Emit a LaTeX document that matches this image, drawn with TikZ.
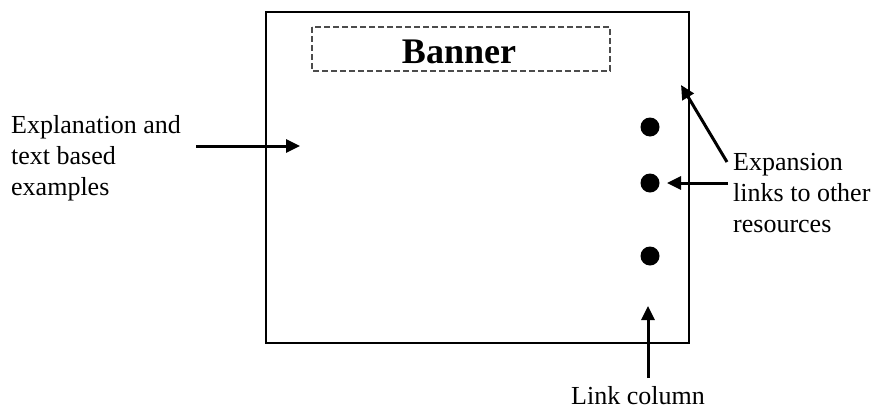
\documentclass[tikz,border=0pt]{standalone}
\usepackage{fontspec}
\setmainfont{Liberation Serif}
\usetikzlibrary{arrows.meta}
\begin{document}
\begin{tikzpicture}[x=1pt,y=-1pt,
  lbl/.style={font=\fontsize{26}{31}\selectfont, inner sep=0pt, align=left},
  dot/.style={circle, fill=black, inner sep=0pt, minimum size=19pt},
  bigarrow/.style={line width=3pt, -{Triangle[length=14pt,width=13pt]}},
  frame/.style={draw, line width=1.4pt}
]
\useasboundingbox (0,0) rectangle (876,410);
\fill[white] (0,0) rectangle (876,410);
% main page box
\draw[frame] (266,12) rectangle (689,343);
% banner
\draw[dashed, line width=1.2pt, dash pattern=on 6pt off 3pt, gray!60!black] (312,27) rectangle (610,71);
\node[anchor=base, inner sep=0pt, font=\fontsize{36}{40}\selectfont\bfseries] (banner) at (459,63) {Banner};
% dots
\node[dot] (d1) at (650,127) {};
\node[dot] (d2) at (650,183) {};
\node[dot] (d3) at (650,256) {};
% labels (base anchor = baseline of last line)
\node[lbl, anchor=base west] (expl) at (11,195) {Explanation and\\text based\\examples};
\node[lbl, anchor=base west] (exp) at (733,232) {Expansion\\links to other\\resources};
\node[lbl, anchor=base] (link) at (638,404) {Link column};
% arrows
\coordinate (a1s) at (196,146);
\coordinate (a1e) at (300,146);
\draw[bigarrow] (a1s) -- (a1e);
\coordinate (a2s) at (728,183);
\coordinate (a2e) at (667,183);
\draw[bigarrow] (a2s) -- (a2e);
\coordinate (a3s) at (727,162);
\coordinate (a3e) at (681,85);
\draw[bigarrow] (a3s) -- (a3e);
\coordinate (a4s) at (648,378);
\coordinate (a4e) at (648,306);
\draw[bigarrow] (a4s) -- (a4e);
\end{tikzpicture}
\end{document}
